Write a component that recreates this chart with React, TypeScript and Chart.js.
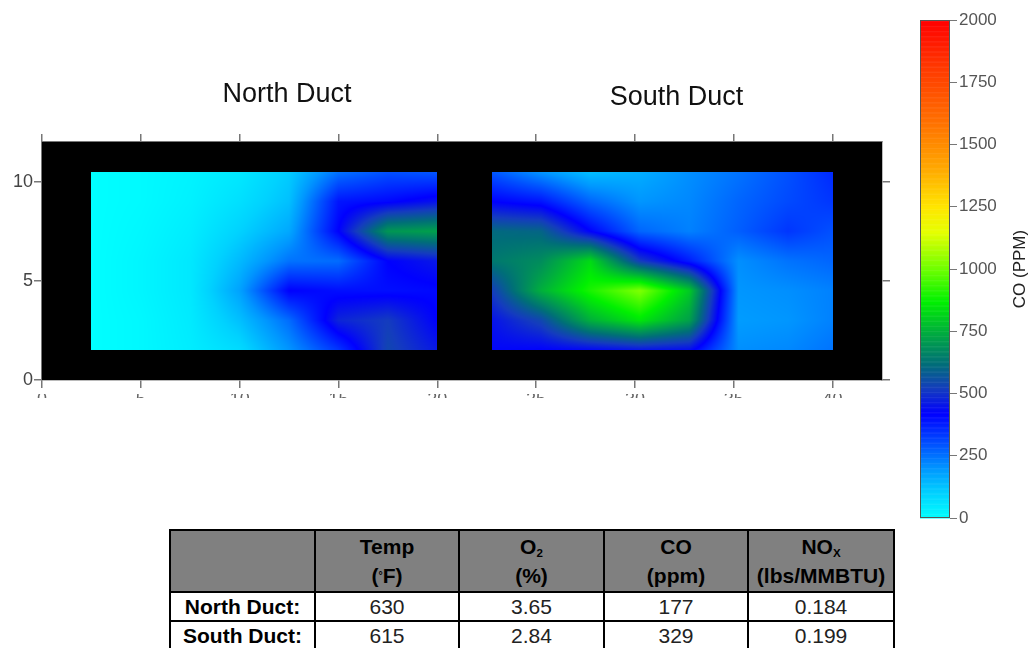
import React, { useEffect, useRef } from "react";
import { Chart, registerables } from "chart.js";
Chart.register(...registerables);

// ---- data ----
const gridY = [1.5, 3, 4.5, 6, 7.5, 9, 10.5];
const northX = [2.5, 5, 7.5, 10, 12.5, 15, 17.5, 20];
const southX = [22.75, 25.25, 27.75, 30.25, 32.75, 35.25, 37.75, 40];
// CO (ppm), rows from y=1.5 (bottom) to y=10.5 (top)
const northCO = [
  [0, 15, 40, 80, 200, 340, 540, 460],
  [0, 15, 45, 130, 260, 480, 520, 420],
  [0, 20, 50, 180, 420, 400, 400, 410],
  [0, 20, 50, 140, 250, 260, 420, 460],
  [0, 15, 40, 100, 170, 420, 700, 720],
  [0, 10, 30, 70, 130, 390, 410, 450],
  [0, 10, 25, 50, 110, 250, 300, 290],
];
const southCO = [
  [430, 420, 430, 450, 440, 210, 220, 250],
  [450, 540, 750, 850, 720, 190, 200, 230],
  [520, 750, 900, 1020, 800, 200, 210, 230],
  [640, 680, 830, 520, 380, 210, 250, 270],
  [610, 600, 420, 270, 230, 280, 340, 300],
  [420, 390, 270, 200, 220, 270, 310, 340],
  [290, 200, 130, 160, 210, 250, 300, 360],
];
const ductTitles = ["North Duct", "South Duct"];
const ductTitleX = [12.4, 32.1];
const xTicks = [0, 5, 10, 15, 20, 25, 30, 35, 40];
const yTicks = [0, 5, 10];
const cbTicks = [0, 250, 500, 750, 1000, 1250, 1500, 1750, 2000];
const cbTitle = "CO (PPM)";

const colorStopValues = [0, 100, 200, 300, 420, 520, 620, 750, 870, 1000, 1150, 1250, 1400, 1600, 1800, 2000];
const colorStopRGB = [
  [0, 255, 255], [0, 210, 255], [0, 150, 255], [0, 80, 255], [0, 0, 255],
  [20, 60, 190], [0, 110, 120], [0, 175, 60], [0, 240, 0], [110, 255, 0],
  [230, 255, 0], [255, 230, 0], [255, 170, 0], [255, 110, 0], [255, 60, 0], [255, 0, 0],
];

const tableHeader = [
  ["", ""],
  ["Temp", "(°F)"],
  ["O2", "(%)"],
  ["CO", "(ppm)"],
  ["NOX", "(lbs/MMBTU)"],
];
const tableRows = [
  ["North Duct:", "630", "3.65", "177", "0.184"],
  ["South Duct:", "615", "2.84", "329", "0.199"],
];

const FONT = '"Liberation Sans", Arial, sans-serif';

function coColor(v: number): number[] {
  const s = colorStopValues;
  if (v <= s[0]) return colorStopRGB[0];
  for (let i = 0; i < s.length - 1; i++) {
    if (v <= s[i + 1]) {
      const t = (v - s[i]) / (s[i + 1] - s[i]);
      const a = colorStopRGB[i], b = colorStopRGB[i + 1];
      return [a[0] + (b[0] - a[0]) * t, a[1] + (b[1] - a[1]) * t, a[2] + (b[2] - a[2]) * t];
    }
  }
  return colorStopRGB[colorStopRGB.length - 1];
}

function locate(arr: number[], v: number): [number, number] {
  let i = 0;
  while (i < arr.length - 2 && v > arr[i + 1]) i++;
  let t = (v - arr[i]) / (arr[i + 1] - arr[i]);
  t = Math.max(0, Math.min(1, t));
  return [i, t];
}

function drawDuct(chart: any, xs: number[], vals: number[][]) {
  const { ctx } = chart;
  const sx = chart.scales.x, sy = chart.scales.y;
  const x0 = Math.round(sx.getPixelForValue(xs[0]));
  const x1 = Math.round(sx.getPixelForValue(xs[xs.length - 1]));
  const y0 = Math.round(sy.getPixelForValue(gridY[gridY.length - 1]));
  const y1 = Math.round(sy.getPixelForValue(gridY[0]));
  const w = x1 - x0, h = y1 - y0;
  const off = document.createElement("canvas");
  off.width = w; off.height = h;
  const octx = off.getContext("2d")!;
  const img = octx.createImageData(w, h);
  for (let j = 0; j < h; j++) {
    const vy = sy.getValueForPixel(y0 + j + 0.5);
    const [r, ty] = locate(gridY, vy);
    for (let i = 0; i < w; i++) {
      const vx = sx.getValueForPixel(x0 + i + 0.5);
      const [c, tx] = locate(xs, vx);
      const v00 = vals[r][c], v01 = vals[r][c + 1], v10 = vals[r + 1][c], v11 = vals[r + 1][c + 1];
      const v = (v00 * (1 - tx) + v01 * tx) * (1 - ty) + (v10 * (1 - tx) + v11 * tx) * ty;
      const col = coColor(v);
      const k = (j * w + i) * 4;
      img.data[k] = col[0]; img.data[k + 1] = col[1]; img.data[k + 2] = col[2]; img.data[k + 3] = 255;
    }
  }
  octx.putImageData(img, 0, 0);
  ctx.save();
  ctx.filter = "blur(0.7px)";
  ctx.drawImage(off, x0, y0);
  ctx.restore();
}

const heatPlugin = {
  id: "heat",
  beforeDatasetsDraw(chart: any) {
    const { ctx, chartArea: a } = chart;
    ctx.save();
    ctx.fillStyle = "#000";
    ctx.fillRect(a.left, a.top, a.right - a.left, a.bottom - a.top);
    ctx.restore();
    drawDuct(chart, northX, northCO);
    drawDuct(chart, southX, southCO);
  },
  afterDraw(chart: any) {
    const { ctx, chartArea: a } = chart;
    const sx = chart.scales.x;
    ctx.save();
    ctx.fillStyle = "#111";
    ctx.font = `27px ${FONT}`;
    ctx.textAlign = "center";
    ctx.textBaseline = "alphabetic";
    ductTitles.forEach((t, i) => {
      ctx.fillText(t, sx.getPixelForValue(ductTitleX[i]), a.top - (i === 0 ? 40 : 37));
    });
    ctx.restore();
    // clipped bottom tick labels
    ctx.save();
    ctx.beginPath();
    ctx.rect(0, a.bottom + 14, chart.width, 4);
    ctx.clip();
    ctx.fillStyle = "#666";
    ctx.font = `18px ${FONT}`;
    ctx.textAlign = "center";
    ctx.textBaseline = "top";
    xTicks.forEach((v) => ctx.fillText(String(v), sx.getPixelForValue(v), a.bottom + 11));
    ctx.restore();
  },
};

const cbPlugin = {
  id: "cbar",
  beforeDatasetsDraw(chart: any) {
    const { ctx, chartArea: a } = chart;
    const sy = chart.scales.y;
    const step = 5;
    for (let v = 0; v < 2000; v += step) {
      const c = coColor(v + step / 2);
      const yTop = sy.getPixelForValue(v + step);
      const yBot = sy.getPixelForValue(v);
      ctx.fillStyle = `rgb(${c[0]},${c[1]},${c[2]})`;
      ctx.fillRect(a.left, yTop, a.right - a.left, yBot - yTop + 0.5);
    }
    ctx.save();
    ctx.strokeStyle = "#555";
    ctx.lineWidth = 1;
    ctx.strokeRect(a.left + 0.5, a.top + 0.5, a.right - a.left - 1, a.bottom - a.top - 1);
    ctx.restore();
  },
  afterDraw(chart: any) {
    const { ctx, chartArea: a } = chart;
    ctx.save();
    ctx.translate(120, (a.top + a.bottom) / 2);
    ctx.rotate(-Math.PI / 2);
    ctx.fillStyle = "#222";
    ctx.font = `17px ${FONT}`;
    ctx.textAlign = "center";
    ctx.textBaseline = "middle";
    ctx.fillText(cbTitle, 0, 0);
    ctx.restore();
  },
};

function axisGrid() {
  return { drawOnChartArea: false, drawTicks: true, tickLength: 8, color: "#777", lineWidth: 1.5 };
}

export default function App() {
  const mainRef = useRef<HTMLCanvasElement>(null);
  const cbRef = useRef<HTMLCanvasElement>(null);

  useEffect(() => {
    document.body.style.margin = "0";
    const setX = (s: any) => { s.ticks = xTicks.map((v) => ({ value: v })); };
    const setY = (s: any) => { s.ticks = yTicks.map((v) => ({ value: v })); };
    const main = new Chart(mainRef.current!, {
      type: "scatter",
      data: { datasets: [{ data: [] }] },
      options: {
        responsive: false,
        animation: false,
        layout: { padding: { left: 0, right: 13, top: 134, bottom: 20 } },
        plugins: { legend: { display: false }, tooltip: { enabled: false } },
        scales: {
          x: {
            type: "linear", position: "bottom", min: 0, max: 42.5,
            afterBuildTicks: setX, ticks: { display: false },
            grid: axisGrid(), border: { display: true, color: "#777", width: 1.5 },
            afterFit: (s: any) => { s.height = 20; },
          },
          x2: {
            type: "linear", position: "top", min: 0, max: 42.5,
            afterBuildTicks: setX, ticks: { display: false },
            grid: axisGrid(), border: { display: true, color: "#777", width: 1.5 },
            afterFit: (s: any) => { s.height = 8; },
          },
          y: {
            type: "linear", position: "left", min: 0, max: 12,
            afterBuildTicks: setY,
            ticks: { display: true, color: "#444", font: { family: FONT, size: 18 }, padding: 1 },
            grid: axisGrid(), border: { display: true, color: "#777", width: 1.5 },
            afterFit: (s: any) => { s.width = 42; },
          },
          y2: {
            type: "linear", position: "right", min: 0, max: 12,
            afterBuildTicks: setY, ticks: { display: false },
            grid: axisGrid(), border: { display: true, color: "#777", width: 1.5 },
            afterFit: (s: any) => { s.width = 10; },
          },
        },
      } as any,
      plugins: [heatPlugin],
    });

    const cb = new Chart(cbRef.current!, {
      type: "scatter",
      data: { datasets: [{ data: [] }] },
      options: {
        responsive: false,
        animation: false,
        layout: { padding: { left: 20, right: 0, top: 20, bottom: 22 } },
        plugins: { legend: { display: false }, tooltip: { enabled: false } },
        scales: {
          x: { type: "linear", display: false, min: 0, max: 1 },
          y: {
            type: "linear", position: "right", min: 0, max: 2000,
            afterBuildTicks: (s: any) => { s.ticks = cbTicks.map((v) => ({ value: v })); },
            ticks: { color: "#555", font: { family: FONT, size: 17 }, padding: 2, callback: (v: any) => String(v) },
            grid: { drawOnChartArea: false, drawTicks: true, tickLength: 7, color: "#777", lineWidth: 1 },
            border: { display: false },
            afterFit: (s: any) => { s.width = 84; },
          },
        },
      } as any,
      plugins: [cbPlugin],
    });

    return () => { main.destroy(); cb.destroy(); };
  }, []);

  const cell: React.CSSProperties = {
    border: "2px solid #000", padding: 0, textAlign: "center", overflow: "hidden", whiteSpace: "nowrap",
    verticalAlign: "middle",
  };
  const subStyle: React.CSSProperties = { fontSize: "0.55em", lineHeight: 0, verticalAlign: "-0.25em" };
  const renderHead = (s: string) => {
    if (s === "O2") return <>O<span style={subStyle}>2</span></>;
    if (s === "NOX") return <>NO<span style={subStyle}>X</span></>;
    if (s === "(°F)") return <>(<span style={{ fontSize: "0.5em", lineHeight: 0, verticalAlign: "0.35em" }}>°</span>F)</>;
    return s;
  };

  return (
    <div style={{ position: "relative", width: 1034, height: 648, overflow: "hidden", background: "#fff" }}>
      <canvas ref={mainRef} width={905} height={420} style={{ position: "absolute", left: 0, top: 0 }} />
      <canvas ref={cbRef} width={134} height={540} style={{ position: "absolute", left: 900, top: 0 }} />
      <table
        style={{
          position: "absolute", left: 169, top: 529, width: 726, borderCollapse: "collapse",
          tableLayout: "fixed", fontFamily: FONT, color: "#000",
        }}
      >
        <colgroup>
          {[145, 144, 145, 144, 146].map((w, i) => <col key={i} style={{ width: w }} />)}
        </colgroup>
        <tbody>
          <tr style={{ height: 62, background: "#808080" }}>
            {tableHeader.map((h, i) => (
              <td key={i} style={{ ...cell, fontWeight: "bold", fontSize: 21, lineHeight: "29px" }}>
                {renderHead(h[0])}
                <br />
                {renderHead(h[1])}
              </td>
            ))}
          </tr>
          {tableRows.map((r, ri) => (
            <tr key={ri} style={{ height: 29, background: "#fff" }}>
              {r.map((v, ci) => (
                <td
                  key={ci}
                  style={{
                    ...cell, fontSize: 21, lineHeight: "25px",
                    fontWeight: ci === 0 ? "bold" : "normal",
                    color: ci === 0 ? "#000" : "#222",
                  }}
                >
                  {v}
                </td>
              ))}
            </tr>
          ))}
        </tbody>
      </table>
    </div>
  );
}
